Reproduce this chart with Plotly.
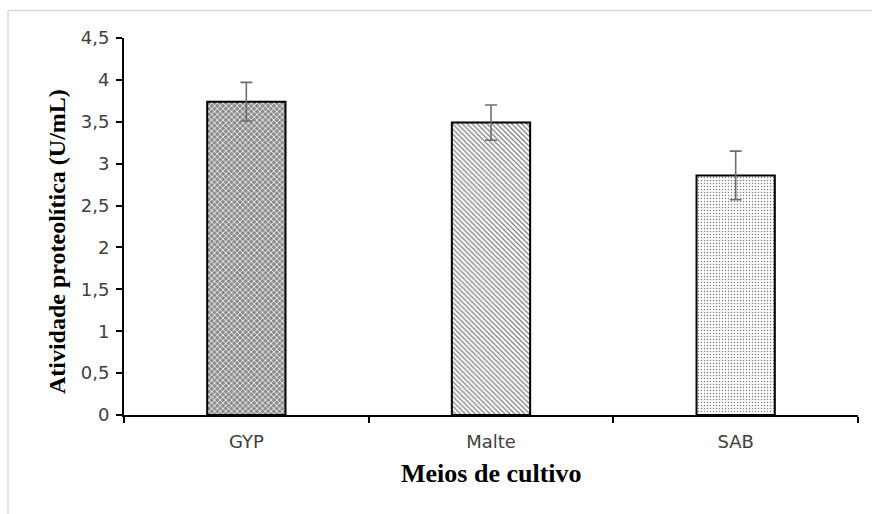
import plotly.graph_objects as go

# Atividade proteolítica por meio de cultivo
meios = ["GYP", "Malte", "SAB"]
atividade = [3.74, 3.49, 2.86]
desvio = [0.23, 0.21, 0.29]
y_ticks = [0, 0.5, 1, 1.5, 2, 2.5, 3, 3.5, 4, 4.5]

padroes = [
    dict(shape="x", fgcolor="#ffffff", bgcolor="#8c8c8c", size=4, solidity=0.35, fillmode="replace"),
    dict(shape="\\", fgcolor="#000000", bgcolor="#ffffff", size=3.5, solidity=0.35),
    dict(shape=".", fgcolor="#000000", bgcolor="#ffffff", size=3, solidity=0.2),
]

fig = go.Figure()
for nome, valor, erro, padrao in zip(meios, atividade, desvio, padroes):
    fig.add_trace(go.Bar(
        x=[nome], y=[valor],
        width=0.32,
        marker=dict(color="white", line=dict(color="black", width=2), pattern=padrao),
        error_y=dict(type="data", array=[erro], visible=True, color="#6e6e6e",
                     thickness=1.6, width=6),
        showlegend=False,
    ))

fig.update_layout(
    width=872, height=514,
    margin=dict(l=124, r=14, t=38, b=99),
    paper_bgcolor="white", plot_bgcolor="white",
    separators=",.",
    barmode="overlay",
    xaxis=dict(
        categoryorder="array", categoryarray=meios,
        showline=True, linecolor="black", linewidth=2,
        ticks="outside", ticklen=6, tickwidth=1.5, tickcolor="black",
        tickson="boundaries", ticklabelstandoff=9,
        tickfont=dict(family="DejaVu Sans", size=18, color="#404040"),
        showgrid=False, zeroline=False,
    ),
    yaxis=dict(
        range=[0, 4.5], tickvals=y_ticks,
        showline=True, linecolor="black", linewidth=2,
        ticks="outside", ticklen=6, tickwidth=1.5, tickcolor="black",
        ticklabelstandoff=3,
        tickfont=dict(family="DejaVu Sans", size=18, color="#404040"),
        showgrid=False, zeroline=False,
    ),
    annotations=[
        dict(text="<b>Atividade proteolítica (U/mL)</b>", xref="paper", yref="paper",
             x=-0.092, y=0.46, textangle=-90, showarrow=False,
             font=dict(family="Liberation Serif", size=24, color="black"),
             xanchor="center", yanchor="middle"),
        dict(text="<b>Meios de cultivo</b>", xref="paper", yref="paper",
             x=0.5, y=-0.154, showarrow=False,
             font=dict(family="Liberation Serif", size=26, color="black"),
             xanchor="center", yanchor="middle"),
    ],
    shapes=[
        dict(type="line", xref="paper", yref="paper", x0=-0.158, x1=1.03, y0=1.073, y1=1.073,
             line=dict(color="#d9d9d9", width=1.5)),
        dict(type="line", xref="paper", yref="paper", x0=-0.158, x1=-0.158, y0=1.073, y1=-0.3,
             line=dict(color="#d9d9d9", width=1.5)),
    ],
)

fig.write_html("out.html")
